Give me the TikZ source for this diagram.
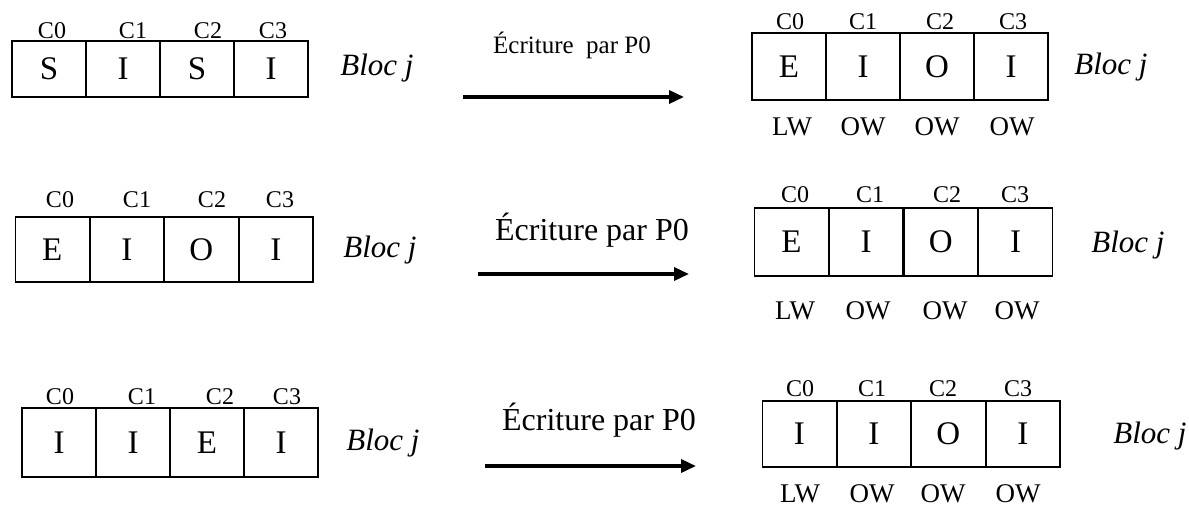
\documentclass[tikz,border=0pt]{standalone}
\usepackage{fontspec}
\setmainfont{Liberation Serif}
\usepackage{tikz}
\usetikzlibrary{arrows.meta}

\tikzset{
	cellule/.style={draw, line width=1.5pt, minimum width=74pt, inner sep=0pt, font=\fontsize{33}{38}\selectfont},
	etiq/.style={inner sep=0pt, font=\fontsize{24}{28}\selectfont},
	acces/.style={inner sep=0pt, font=\fontsize{27}{32}\selectfont},
	bloc/.style={inner sep=0pt, font=\fontsize{31}{36}\selectfont\itshape},
	ecrit/.style={inner sep=0pt, font=\fontsize{32}{38}\selectfont},
	fleche/.style={line width=3.5pt, -{Triangle[length=15pt,width=13pt]}}
}

\begin{document}
\begin{tikzpicture}[x=1pt, y=-1pt]
		\useasboundingbox (0,0) rectangle (1189,509);

		% Ligne 1 : bloc avant l'écriture
		\foreach \t/\lx [count=\i from 0] in {S/52,I/133,S/208,I/273} {
			\node[cellule, minimum height=56pt] (b1c\i) at ({49+74*\i},69) {\t};
			\node[etiq] (b1l\i) at (\lx,31) {C\i};
		}
		\node[bloc] (bj1) at (377,68) {Bloc j};

		% Ligne 1 : écriture par P0
		\node[ecrit, font=\fontsize{25}{30}\selectfont] (t1) at (572,45) {Écriture~~par P0};
		\coordinate (a1d) at (463,97);
		\coordinate (a1f) at (684,97);
		\draw[fleche] (a1d) -- (a1f);

		% Ligne 1 : bloc après l'écriture
		\foreach \t/\lx [count=\i from 0] in {E/790,I/863,O/940,I/1013} {
			\node[cellule, minimum height=67pt] (b2c\i) at ({789+74*\i},66.5) {\t};
			\node[etiq] (b2l\i) at (\lx,22) {C\i};
		}
		\foreach \w/\wx [count=\i from 0] in {LW/792,OW/863,OW/937,OW/1012}
			\node[acces] (b2w\i) at (\wx,127) {\w};
		\node[bloc] (bj2) at (1111,67) {Bloc j};

		% Ligne 2 : bloc avant l'écriture
		\foreach \t/\lx [count=\i from 0] in {E/60,I/137,O/212,I/280} {
			\node[cellule, minimum height=65pt] (b3c\i) at ({52.25+74.5*\i},249.5) {\t};
			\node[etiq] (b3l\i) at (\lx,200) {C\i};
		}
		\node[bloc] (bj3) at (380,250) {Bloc j};

		% Ligne 2 : écriture par P0
		\node[ecrit] (t2) at (592,230) {Écriture par P0};
		\coordinate (a2d) at (478,274);
		\coordinate (a2f) at (689,274);
		\draw[fleche] (a2d) -- (a2f);

		% Ligne 2 : bloc après l'écriture
		\foreach \t/\lx [count=\i from 0] in {E/795,I/870,O/947,I/1015} {
			\node[cellule, minimum height=68pt] (b4c\i) at ({791.4+74.75*\i},242) {\t};
			\node[etiq] (b4l\i) at (\lx,195) {C\i};
		}
		\foreach \w/\wx [count=\i from 0] in {LW/795,OW/868,OW/945,OW/1017}
			\node[acces] (b4w\i) at (\wx,311) {\w};
		\node[bloc] (bj4) at (1128,245) {Bloc j};

		% Ligne 3 : bloc avant l'écriture
		\foreach \t/\lx [count=\i from 0] in {I/60,I/142,E/220,I/287} {
			\node[cellule, minimum height=69pt] (b5c\i) at ({59+74*\i},442.5) {\t};
			\node[etiq] (b5l\i) at (\lx,397) {C\i};
		}
		\node[bloc] (bj5) at (383,443) {Bloc j};

		% Ligne 3 : écriture par P0
		\node[ecrit] (t3) at (599,420) {Écriture par P0};
		\coordinate (a3d) at (485,466);
		\coordinate (a3f) at (696,466);
		\draw[fleche] (a3d) -- (a3f);

		% Ligne 3 : bloc après l'écriture
		\foreach \t/\lx [count=\i from 0] in {I/800,I/872,O/943,I/1018} {
			\node[cellule, minimum height=66pt] (b6c\i) at ({799.25+74.5*\i},434) {\t};
			\node[etiq] (b6l\i) at (\lx,389) {C\i};
		}
		\foreach \w/\wx [count=\i from 0] in {LW/800,OW/872,OW/943,OW/1018}
			\node[acces] (b6w\i) at (\wx,494) {\w};
		\node[bloc] (bj6) at (1150,436) {Bloc j};
	\end{tikzpicture}
\end{document}
